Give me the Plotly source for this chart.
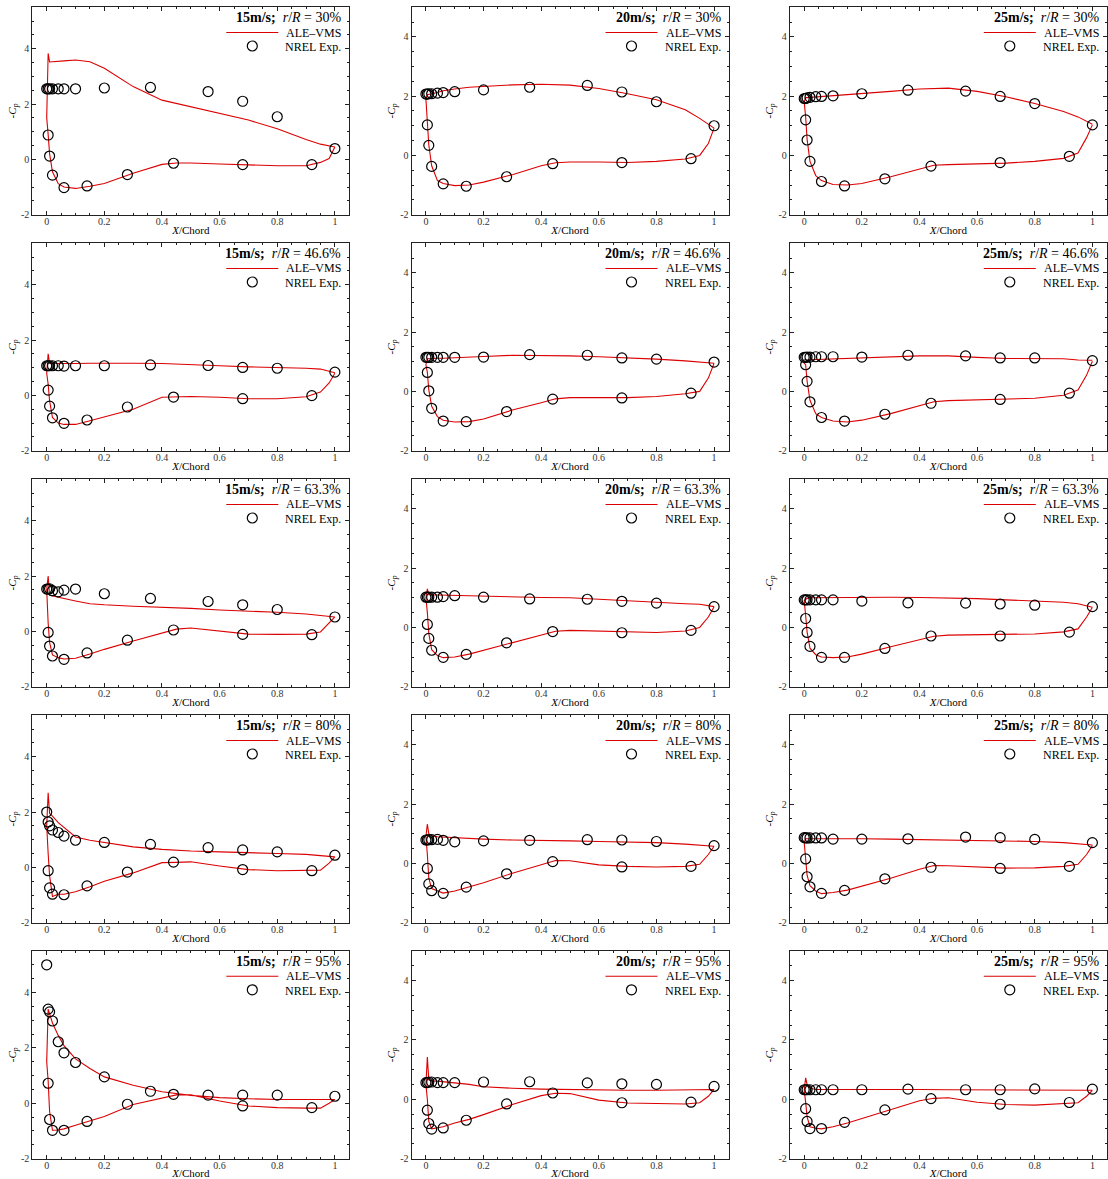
import plotly.graph_objects as go

# ---------------- data ----------------
SPEEDS = ["15m/s", "20m/s", "25m/s"]
SPANS = ["30%", "46.6%", "63.3%", "80%", "95%"]
SERIES_NAMES = ["ALE\u2013VMS", "NREL Exp."]

X_TICKS = [0, 0.2, 0.4, 0.6, 0.8, 1.0]
X_TICK_TEXT = ["0", "0.2", "0.4", "0.6", "0.8", "1"]
Y_TICKS = [-2, 0, 2, 4]
Y_TICK_TEXT = ["-2", "0", "2", "4"]

# NREL pressure tap locations
EXP_XU = [0.0, 0.005, 0.01, 0.02, 0.04, 0.06, 0.10, 0.20, 0.36, 0.56, 0.68, 0.80, 1.00]
EXP_XL = [0.005, 0.01, 0.02, 0.06, 0.14, 0.28, 0.44, 0.68, 0.92]

# CFD sampling (upper: TE -> LE, lower: LE -> TE)
CFD_XU = [1.0, 0.95, 0.9, 0.8, 0.7, 0.6, 0.5, 0.4, 0.3, 0.2, 0.15, 0.1, 0.06, 0.04, 0.02, 0.01, 0.005, 0.0]
CFD_XL = [0.005, 0.01, 0.02, 0.04, 0.06, 0.1, 0.15, 0.2, 0.3, 0.4, 0.45, 0.5, 0.6, 0.7, 0.8, 0.9, 0.95, 0.98, 1.0]

# ---- r/R = 30% ----
exp_up_15_30 = [2.55, 2.55, 2.55, 2.55, 2.55, 2.55, 2.55, 2.58, 2.6, 2.45, 2.1, 1.54, 0.39]
exp_lo_15_30 = [0.88, 0.12, -0.57, -1.02, -0.96, -0.55, -0.14, -0.19, -0.19]
cfd_up_15_30 = [0.45, 0.55, 0.72, 1.11, 1.42, 1.66, 1.92, 2.14, 2.63, 3.29, 3.53, 3.59, 3.56, 3.55, 3.53, 3.52, 3.83, 1.5]
cfd_lo_15_30 = [0.9, 0.2, -0.45, -0.88, -1.0, -1.05, -0.97, -0.87, -0.5, -0.18, -0.13, -0.13, -0.17, -0.2, -0.23, -0.23, -0.11, 0.03, 0.45]

exp_up_20_30 = [2.07, 2.07, 2.08, 2.08, 2.1, 2.12, 2.15, 2.21, 2.3, 2.36, 2.14, 1.81, 1.0]
exp_lo_20_30 = [1.03, 0.34, -0.37, -0.96, -1.04, -0.72, -0.28, -0.24, -0.11]
cfd_up_20_30 = [0.92, 1.25, 1.54, 1.88, 2.08, 2.26, 2.37, 2.4, 2.38, 2.34, 2.3, 2.24, 2.18, 2.12, 2.08, 2.05, 2.05, 1.9]
cfd_lo_20_30 = [1.1, 0.35, -0.35, -0.85, -0.95, -1.02, -1.0, -0.9, -0.65, -0.35, -0.25, -0.22, -0.22, -0.24, -0.2, -0.12, 0.0, 0.4, 0.92]

exp_up_25_30 = [1.92, 1.92, 1.94, 1.96, 1.98, 1.99, 2.01, 2.08, 2.2, 2.17, 1.99, 1.75, 1.03]
exp_lo_25_30 = [1.2, 0.52, -0.2, -0.88, -1.03, -0.79, -0.36, -0.24, -0.03]
cfd_up_25_30 = [1.05, 1.3, 1.48, 1.75, 1.98, 2.16, 2.27, 2.24, 2.16, 2.08, 2.05, 2.01, 1.99, 1.97, 1.96, 1.95, 1.95, 1.8]
cfd_lo_25_30 = [1.3, 0.55, -0.2, -0.68, -0.85, -0.98, -1.0, -0.95, -0.72, -0.45, -0.33, -0.31, -0.29, -0.26, -0.2, -0.1, 0.08, 0.6, 1.03]

# ---- r/R = 46.6% ----
exp_up_15_47 = [1.07, 1.07, 1.07, 1.07, 1.07, 1.06, 1.07, 1.07, 1.1, 1.08, 1.01, 0.98, 0.84]
exp_lo_15_47 = [0.19, -0.39, -0.81, -1.01, -0.89, -0.42, -0.06, -0.12, -0.01]
cfd_up_15_47 = [0.82, 0.95, 0.98, 1.0, 1.03, 1.07, 1.12, 1.15, 1.16, 1.17, 1.16, 1.15, 1.15, 1.15, 1.14, 1.15, 1.5, 0.8]
cfd_lo_15_47 = [0.4, -0.2, -0.8, -1.0, -1.05, -1.05, -0.92, -0.78, -0.5, -0.07, -0.05, -0.04, -0.07, -0.12, -0.12, -0.05, 0.12, 0.45, 0.8]

exp_up_20_47 = [1.15, 1.15, 1.15, 1.15, 1.15, 1.15, 1.15, 1.16, 1.24, 1.22, 1.13, 1.09, 0.99]
exp_lo_20_47 = [0.64, 0.02, -0.57, -1.0, -1.02, -0.68, -0.26, -0.22, -0.06]
cfd_up_20_47 = [0.95, 1.0, 1.03, 1.09, 1.14, 1.17, 1.2, 1.22, 1.22, 1.18, 1.15, 1.13, 1.12, 1.12, 1.12, 1.1, 1.1, 0.9]
cfd_lo_20_47 = [0.65, 0.05, -0.5, -0.85, -0.97, -1.03, -1.02, -0.93, -0.63, -0.38, -0.25, -0.21, -0.21, -0.21, -0.17, -0.08, 0.0, 0.45, 0.95]

exp_up_25_47 = [1.15, 1.15, 1.16, 1.16, 1.17, 1.17, 1.17, 1.16, 1.22, 1.2, 1.13, 1.13, 1.04]
exp_lo_25_47 = [0.9, 0.34, -0.35, -0.88, -1.0, -0.77, -0.4, -0.27, -0.06]
cfd_up_25_47 = [1.05, 1.06, 1.1, 1.11, 1.11, 1.15, 1.2, 1.2, 1.17, 1.14, 1.12, 1.1, 1.09, 1.08, 1.07, 1.05, 1.0, 0.95]
cfd_lo_25_47 = [0.9, 0.35, -0.3, -0.75, -0.88, -1.0, -1.03, -0.97, -0.75, -0.5, -0.35, -0.31, -0.29, -0.27, -0.23, -0.13, 0.05, 0.55, 1.02]

# ---- r/R = 63.3% ----
exp_up_15_63 = [1.53, 1.53, 1.54, 1.47, 1.43, 1.49, 1.53, 1.36, 1.19, 1.08, 0.96, 0.79, 0.52]
exp_lo_15_63 = [-0.04, -0.53, -0.89, -1.01, -0.78, -0.32, 0.05, -0.11, -0.12]
cfd_up_15_63 = [0.52, 0.58, 0.63, 0.69, 0.72, 0.77, 0.83, 0.86, 0.91, 0.96, 1.0, 1.1, 1.18, 1.22, 1.26, 1.3, 2.0, 1.5]
cfd_lo_15_63 = [0.3, -0.4, -0.85, -0.95, -1.0, -0.97, -0.82, -0.65, -0.35, -0.05, 0.08, 0.12, 0.0, -0.1, -0.11, -0.1, -0.02, 0.3, 0.52]

exp_up_20_63 = [1.02, 1.02, 1.02, 1.02, 1.02, 1.04, 1.07, 1.02, 0.96, 0.95, 0.88, 0.82, 0.7]
exp_lo_20_63 = [0.1, -0.37, -0.77, -1.01, -0.91, -0.52, -0.14, -0.18, -0.1]
cfd_up_20_63 = [0.7, 0.78, 0.8, 0.85, 0.9, 0.95, 1.0, 1.01, 1.03, 1.05, 1.07, 1.08, 1.08, 1.08, 1.08, 1.1, 1.3, 1.0]
cfd_lo_20_63 = [0.5, -0.2, -0.75, -0.95, -1.02, -1.0, -0.9, -0.77, -0.5, -0.25, -0.13, -0.1, -0.13, -0.16, -0.17, -0.12, 0.0, 0.35, 0.7]

exp_up_25_63 = [0.93, 0.93, 0.93, 0.93, 0.93, 0.93, 0.93, 0.89, 0.83, 0.82, 0.79, 0.75, 0.7]
exp_lo_25_63 = [0.3, -0.17, -0.64, -1.01, -1.01, -0.71, -0.29, -0.29, -0.16]
cfd_up_25_63 = [0.68, 0.8, 0.85, 0.9, 0.93, 0.97, 1.0, 1.01, 1.02, 1.02, 1.02, 1.02, 1.0, 1.0, 1.0, 0.98, 0.95, 0.9]
cfd_lo_25_63 = [0.4, -0.15, -0.7, -0.92, -1.0, -1.02, -1.0, -0.9, -0.65, -0.42, -0.3, -0.26, -0.25, -0.25, -0.22, -0.15, -0.05, 0.35, 0.68]

# ---- r/R = 80% ----
exp_up_15_80 = [2.0, 1.64, 1.5, 1.35, 1.26, 1.13, 0.98, 0.9, 0.83, 0.71, 0.63, 0.56, 0.44]
exp_lo_15_80 = [-0.12, -0.74, -0.97, -0.99, -0.67, -0.17, 0.19, -0.08, -0.12]
cfd_up_15_80 = [0.38, 0.42, 0.47, 0.5, 0.54, 0.56, 0.59, 0.65, 0.74, 0.89, 0.98, 1.1, 1.45, 1.62, 1.85, 1.95, 2.7, 1.5]
cfd_lo_15_80 = [0.5, -0.3, -1.05, -0.97, -0.97, -0.88, -0.7, -0.5, -0.2, 0.17, 0.18, 0.2, 0.05, -0.08, -0.12, -0.12, -0.1, 0.15, 0.38]

exp_up_20_80 = [0.79, 0.79, 0.8, 0.8, 0.81, 0.78, 0.73, 0.76, 0.78, 0.8, 0.79, 0.74, 0.6]
exp_lo_20_80 = [-0.17, -0.69, -0.92, -1.01, -0.8, -0.35, 0.06, -0.12, -0.1]
cfd_up_20_80 = [0.58, 0.62, 0.65, 0.7, 0.73, 0.74, 0.76, 0.77, 0.79, 0.82, 0.84, 0.86, 0.88, 0.9, 0.93, 1.0, 1.33, 0.9]
cfd_lo_20_80 = [0.3, -0.5, -0.85, -0.93, -1.0, -0.93, -0.8, -0.65, -0.33, -0.03, 0.1, 0.09, -0.05, -0.1, -0.12, -0.1, -0.03, 0.3, 0.58]

exp_up_25_80 = [0.87, 0.86, 0.86, 0.86, 0.86, 0.86, 0.82, 0.82, 0.83, 0.89, 0.87, 0.81, 0.7]
exp_lo_25_80 = [0.15, -0.45, -0.79, -1.01, -0.91, -0.52, -0.13, -0.17, -0.1]
cfd_up_25_80 = [0.62, 0.66, 0.7, 0.74, 0.76, 0.78, 0.8, 0.81, 0.82, 0.83, 0.83, 0.83, 0.83, 0.83, 0.83, 0.83, 0.83, 0.7]
cfd_lo_25_80 = [0.2, -0.4, -0.75, -0.93, -1.02, -0.98, -0.9, -0.77, -0.5, -0.2, -0.07, -0.08, -0.12, -0.16, -0.15, -0.1, -0.03, 0.3, 0.6]

# ---- r/R = 95% ----
exp_up_15_95 = [5.0, 3.4, 3.3, 2.97, 2.22, 1.82, 1.47, 0.95, 0.43, 0.29, 0.29, 0.29, 0.25]
exp_lo_15_95 = [0.72, -0.59, -0.98, -0.98, -0.66, -0.04, 0.32, -0.1, -0.16]
cfd_up_15_95 = [0.13, 0.13, 0.13, 0.13, 0.16, 0.2, 0.28, 0.41, 0.65, 0.95, 1.25, 1.6, 2.08, 2.45, 2.9, 3.3, 3.4, 1.5]
cfd_lo_15_95 = [0.8, -0.3, -0.98, -0.97, -0.93, -0.8, -0.65, -0.48, -0.05, 0.2, 0.3, 0.3, 0.08, -0.1, -0.16, -0.18, -0.18, 0.0, 0.13]

exp_up_20_95 = [0.56, 0.56, 0.58, 0.58, 0.56, 0.56, 0.56, 0.58, 0.59, 0.55, 0.52, 0.5, 0.43]
exp_lo_20_95 = [-0.37, -0.82, -1.01, -0.97, -0.71, -0.16, 0.21, -0.12, -0.1]
cfd_up_20_95 = [0.33, 0.32, 0.31, 0.3, 0.3, 0.31, 0.31, 0.34, 0.37, 0.42, 0.5, 0.56, 0.6, 0.61, 0.62, 0.65, 1.42, 0.5]
cfd_lo_20_95 = [0.0, -0.75, -1.0, -0.97, -0.93, -0.8, -0.68, -0.52, -0.18, 0.12, 0.2, 0.19, -0.03, -0.13, -0.15, -0.16, -0.12, 0.1, 0.33]

exp_up_25_95 = [0.32, 0.32, 0.32, 0.32, 0.32, 0.32, 0.32, 0.32, 0.34, 0.32, 0.32, 0.35, 0.34]
exp_lo_25_95 = [-0.32, -0.75, -0.99, -0.99, -0.78, -0.36, 0.02, -0.17, -0.11]
cfd_up_25_95 = [0.3, 0.3, 0.31, 0.31, 0.32, 0.32, 0.32, 0.33, 0.33, 0.33, 0.34, 0.33, 0.33, 0.33, 0.38, 0.5, 0.72, 0.3]
cfd_lo_25_95 = [-0.1, -0.6, -0.93, -0.98, -1.0, -0.93, -0.8, -0.65, -0.33, -0.05, 0.03, 0.05, -0.1, -0.18, -0.2, -0.16, -0.12, 0.1, 0.3]

PANELS = [
    [(exp_up_15_30, exp_lo_15_30, cfd_up_15_30, cfd_lo_15_30),
     (exp_up_20_30, exp_lo_20_30, cfd_up_20_30, cfd_lo_20_30),
     (exp_up_25_30, exp_lo_25_30, cfd_up_25_30, cfd_lo_25_30)],
    [(exp_up_15_47, exp_lo_15_47, cfd_up_15_47, cfd_lo_15_47),
     (exp_up_20_47, exp_lo_20_47, cfd_up_20_47, cfd_lo_20_47),
     (exp_up_25_47, exp_lo_25_47, cfd_up_25_47, cfd_lo_25_47)],
    [(exp_up_15_63, exp_lo_15_63, cfd_up_15_63, cfd_lo_15_63),
     (exp_up_20_63, exp_lo_20_63, cfd_up_20_63, cfd_lo_20_63),
     (exp_up_25_63, exp_lo_25_63, cfd_up_25_63, cfd_lo_25_63)],
    [(exp_up_15_80, exp_lo_15_80, cfd_up_15_80, cfd_lo_15_80),
     (exp_up_20_80, exp_lo_20_80, cfd_up_20_80, cfd_lo_20_80),
     (exp_up_25_80, exp_lo_25_80, cfd_up_25_80, cfd_lo_25_80)],
    [(exp_up_15_95, exp_lo_15_95, cfd_up_15_95, cfd_lo_15_95),
     (exp_up_20_95, exp_lo_20_95, cfd_up_20_95, cfd_lo_20_95),
     (exp_up_25_95, exp_lo_25_95, cfd_up_25_95, cfd_lo_25_95)],
]

# ---------------- layout geometry (pixels) ----------------
W, H = 1108, 1179
COL_LEFT = [32.3, 411.5, 789.8]
PLOT_W = 317.0
ROW_TOP = [7.2, 243.2, 479.2, 715.2, 951.0]
PLOT_H = 207.5
Y_RANGES = [[-2, 5.5], [-2, 5], [-2, 5]]

FONT = "Liberation Serif"
RED = "#dc0000"

fig = go.Figure()
annotations = []
shapes = []
layout = dict(
    width=W, height=H,
    margin=dict(l=0, r=0, t=0, b=0),
    paper_bgcolor="white", plot_bgcolor="white",
    font=dict(family=FONT, color="black"),
    showlegend=False,
)


def px_x(p):
    return p / W


def px_y(p):
    return 1 - p / H


k = 0
for r in range(5):
    for c in range(3):
        k += 1
        suf = "" if k == 1 else str(k)
        xa, ya = "x" + suf, "y" + suf
        eu, el, cu, cl = PANELS[r][c]

        fig.add_trace(go.Scatter(
            x=CFD_XU + CFD_XL, y=cu + cl, mode="lines",
            line=dict(color=RED, width=1.1),
            name=SERIES_NAMES[0], xaxis=xa, yaxis=ya,
        ))
        fig.add_trace(go.Scatter(
            x=EXP_XU + EXP_XL, y=eu + el, mode="markers",
            marker=dict(symbol="circle-open", size=10, color="black",
                        line=dict(width=1.2, color="black")),
            name=SERIES_NAMES[1], xaxis=xa, yaxis=ya,
        ))

        left = COL_LEFT[c]
        right = COL_LEFT[c] + PLOT_W
        top = ROW_TOP[r]
        bottom = ROW_TOP[r] + PLOT_H

        axis_common = dict(
            showline=True, linecolor="#222", linewidth=1, mirror="allticks",
            ticks="inside", ticklen=4, tickcolor="#222", tickwidth=1,
            showgrid=False, zeroline=False, automargin=False,
            tickfont=dict(family=FONT, size=10, color="#333"),
        )
        layout["xaxis" + suf] = dict(
            axis_common, domain=[px_x(left), px_x(right)], range=[-0.05, 1.05], anchor=ya,
            tickvals=X_TICKS, ticktext=X_TICK_TEXT, ticklabelstandoff=-3,
            minor=dict(dtick=0.05, tick0=0, ticks="inside", ticklen=2, tickcolor="#222"),
            title=dict(text="<i>X</i>/Chord", font=dict(family=FONT, size=11), standoff=0),
        )
        layout["yaxis" + suf] = dict(
            axis_common, domain=[px_y(bottom), px_y(top)], range=Y_RANGES[c], anchor=xa,
            tickvals=Y_TICKS, ticktext=Y_TICK_TEXT,
            minor=dict(dtick=0.5, tick0=0, ticks="inside", ticklen=2, tickcolor="#222"),
            title=dict(text="-<i>C</i><sub><i>p</i></sub>", font=dict(family=FONT, size=11), standoff=2),
        )

        # panel title (legend header)
        annotations.append(dict(
            xref="paper", yref="paper",
            x=px_x(right - 6), y=px_y(top + 10.2),
            xanchor="right", yanchor="middle", showarrow=False,
            text="<b>" + SPEEDS[c] + ";</b>&nbsp; <i>r</i>/<i>R</i> = " + SPANS[r],
            font=dict(family=FONT, size=14, color="black"),
        ))
        # legend entries
        for i, dy in enumerate([25.3, 39.8]):
            annotations.append(dict(
                xref="paper", yref="paper",
                x=px_x(right - 6), y=px_y(top + dy),
                xanchor="right", yanchor="middle", showarrow=False,
                text=SERIES_NAMES[i],
                font=dict(family=FONT, size=12, color="black"),
            ))
        shapes.append(dict(
            type="line", xref="paper", yref="paper",
            x0=px_x(right - 123), x1=px_x(right - 71),
            y0=px_y(top + 25.3), y1=px_y(top + 25.3),
            line=dict(color=RED, width=1.1),
        ))
        shapes.append(dict(
            type="circle", xref="paper", yref="paper",
            x0=px_x(right - 102), x1=px_x(right - 92),
            y0=px_y(top + 38.8 + 5), y1=px_y(top + 38.8 - 5),
            line=dict(color="black", width=1.2),
        ))

layout["annotations"] = annotations
layout["shapes"] = shapes
fig.update_layout(**layout)
fig.write_html("out.html", config={"displayModeBar": False},
               post_script="document.body.style.margin='0';")
